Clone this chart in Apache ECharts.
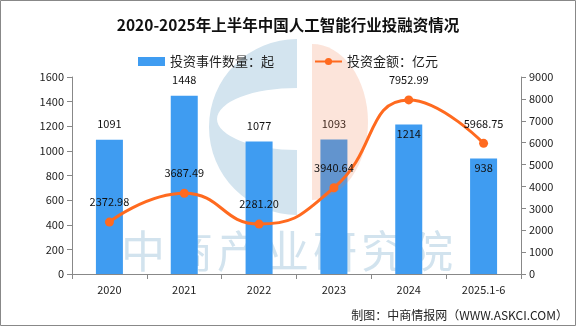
<!DOCTYPE html>
<html>
<head>
<meta charset="utf-8">
<script src="https://cdn.jsdelivr.net/npm/echarts@6/dist/echarts.min.js"></script>
<style>
  html, body { margin: 0; padding: 0; background: #fff; }
  #chart { width: 576px; height: 326px; }
</style>
</head>
<body>
<div id="chart"></div>
<script>
// Categories and series
const categories = ['2020', '2021', '2022', '2023', '2024', '2025.1-6'];
const eventCounts = [1091, 1448, 1077, 1093, 1214, 938];          // 投资事件数量：起
const investAmounts = [2372.98, 3687.49, 2281.20, 3940.64, 7952.99, 5968.75]; // 投资金额：亿元
// Label position per bar (above the bar, or inside its top)
const barLabelPos = ['top', 'top', 'top', 'top', 'insideTop', 'insideTop'];

const FONT = '"Noto Sans CJK SC", "DejaVu Sans", sans-serif';
const BAR_COLOR = '#3f9cf1';
const LINE_COLOR = '#ff6a1f';
const PI = Math.PI;

const chart = echarts.init(document.getElementById('chart'));

// Watermark text, one glyph per element so the spacing can be set
const watermarkChars = '中商产业研究院'.split('').map((ch, i) => ({
  type: 'text', silent: true, z: -4,
  left: 121 + i * 48, top: 229,
  style: { text: ch, font: '44px "Noto Sans CJK SC", sans-serif', fill: '#d2e3ee' }
}));

const option = {
  backgroundColor: '#fff',
  animation: false,
  title: {
    text: '2020-2025年上半年中国人工智能行业投融资情况',
    left: 'center',
    top: 12,
    textStyle: { fontFamily: FONT, fontSize: 15.5, fontWeight: 'bold', color: '#111' }
  },
  legend: {
    top: 50,
    left: 'center',
    itemGap: 40,
    itemWidth: 27,
    itemHeight: 9,
    textStyle: { fontFamily: FONT, fontSize: 13, color: '#222' },
    data: [
      { name: '投资事件数量：起', icon: 'rect' },
      { name: '投资金额：亿元' }
    ]
  },
  graphic: [
    {
      type: 'rect', silent: true, z: -10,
      shape: { x: 0.5, y: 0.5, width: 575, height: 325 },
      style: { fill: 'none', stroke: '#888', lineWidth: 1 }
    },
    // watermark logo: blue "C" with an elliptical cut-out
    {
      type: 'sector', silent: true, z: -6,
      x: 297, y: 127,
      shape: { cx: 0, cy: 0, r: 88, r0: 0, startAngle: PI / 2, endAngle: PI * 1.5 },
      style: { fill: '#d3e4ef' }
    },
    {
      type: 'sector', silent: true, z: -5,
      x: 297, y: 119, scaleY: 31 / 80,
      shape: { cx: 0, cy: 0, r: 80, r0: 0, startAngle: PI / 2, endAngle: PI * 1.5 },
      style: { fill: '#fff' }
    },
    ...watermarkChars,
    // watermark logo: orange half-ellipse, drawn over the bars
    {
      type: 'sector', silent: true, z: 3,
      x: 312, y: 122, scaleY: 78 / 56,
      shape: { cx: 0, cy: 0, r: 56, r0: 0, startAngle: -PI / 2, endAngle: PI / 2 },
      style: { fill: 'rgba(240,120,70,0.2)' }
    },
    {
      type: 'text', right: 8, top: 309,
      style: {
        text: '制图：中商情报网（WWW.ASKCI.COM）',
        font: '12px "Noto Sans CJK SC", sans-serif',
        fill: '#222'
      }
    }
  ],
  grid: { left: 72, right: 55, top: 77, bottom: 52 },
  xAxis: {
    type: 'category',
    data: categories,
    axisLine: { lineStyle: { color: '#888' } },
    axisTick: { show: true, lineStyle: { color: '#888' } },
    axisLabel: { fontFamily: FONT, fontSize: 11, color: '#222', margin: 10 }
  },
  yAxis: [
    {
      type: 'value', min: 0, max: 1600, interval: 200,
      axisLine: { show: true, lineStyle: { color: '#888' } },
      axisTick: { show: true, lineStyle: { color: '#888' } },
      splitLine: { show: false },
      axisLabel: { fontFamily: FONT, fontSize: 11, color: '#222', formatter: v => String(v) }
    },
    {
      type: 'value', min: 0, max: 9000, interval: 1000,
      axisLine: { show: true, lineStyle: { color: '#888' } },
      axisTick: { show: true, lineStyle: { color: '#888' } },
      splitLine: { show: false },
      axisLabel: { fontFamily: FONT, fontSize: 11, color: '#222', formatter: v => String(v) }
    }
  ],
  series: [
    {
      name: '投资事件数量：起',
      type: 'bar',
      barWidth: 27,
      itemStyle: { color: BAR_COLOR },
      data: eventCounts.map((v, i) => ({
        value: v,
        label: { position: barLabelPos[i], distance: barLabelPos[i] === 'top' ? 10 : 4 }
      })),
      label: { show: true, fontFamily: FONT, fontSize: 11, color: '#111' }
    },
    {
      name: '投资金额：亿元',
      type: 'line',
      yAxisIndex: 1,
      smooth: true,
      symbol: 'circle',
      symbolSize: 9,
      lineStyle: { color: LINE_COLOR, width: 3 },
      itemStyle: { color: LINE_COLOR },
      data: investAmounts,
      label: {
        show: true, position: 'top', distance: 10,
        fontFamily: FONT, fontSize: 11, color: '#111',
        formatter: p => p.value.toFixed(2)
      },
      z: 5
    }
  ]
};

chart.setOption(option);
</script>
</body>
</html>
